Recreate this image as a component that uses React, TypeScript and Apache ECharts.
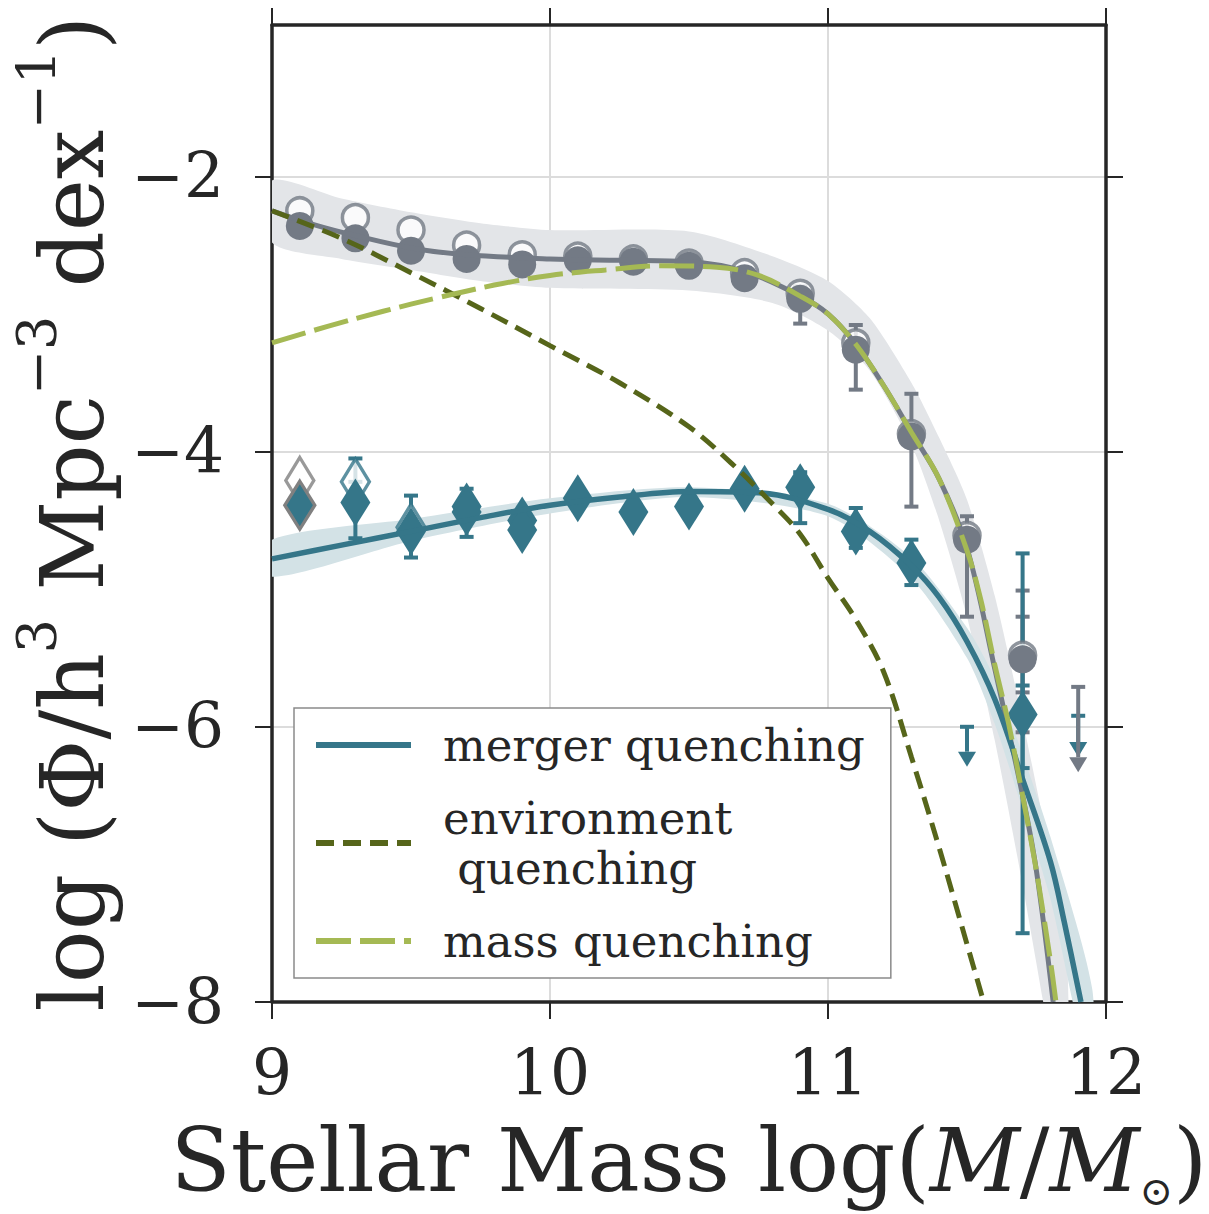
import React, { useEffect, useRef } from 'react';
import * as echarts from 'echarts';

// ---- data ----
const massBins = [9.1, 9.3, 9.5, 9.7, 9.9, 10.1, 10.3, 10.5, 10.7, 10.9, 11.1, 11.3, 11.5, 11.7];
const quenchedFilled = [-2.36, -2.45, -2.54, -2.60, -2.64, -2.61, -2.62, -2.65, -2.74, -2.89, -3.26, -3.89, -4.64, -5.51];
const quenchedOpen = [-2.25, -2.30, -2.39, -2.50, -2.57, -2.58, -2.60, -2.63, -2.70, -2.85, -3.21, -3.87, -4.61, -5.48];
const mergerFilled = [-4.39, -4.37, -4.58, -4.44, -4.57, -4.34, -4.44, -4.40, -4.27, -4.26, -4.58, -4.81, null, -5.91];
const mergerOpenX = [9.3, 9.5];
const mergerOpenY = [-4.22, -4.55];
const mergerExtraX = [9.7, 9.9];
const mergerExtraY = [-4.40, -4.50];
const mergerOpenGrayX = [9.1];
const mergerOpenGrayY = [-4.21];

const grayErrX = [10.9, 11.1, 11.3, 11.5, 11.7, 11.7];
const grayErrLo = [-3.07, -3.55, -4.40, -5.20, -5.75, -6.04];
const grayErrHi = [-2.80, -3.08, -3.58, -4.47, -5.01, -5.20];

const tealErrX = [9.3, 9.3, 9.5, 9.7, 10.9, 11.1, 11.3, 11.7, 11.7];
const tealErrLo = [-4.63, -4.40, -4.77, -4.62, -4.52, -4.70, -4.97, -7.50, -6.30];
const tealErrHi = [-4.22, -4.05, -4.32, -4.27, -4.15, -4.41, -4.64, -4.74, -5.70];

const tealLimitX = [11.5, 11.9];
const tealLimitTop = [-6.0, -5.92];
const tealLimitTip = [-6.29, -6.22];
const grayLimitX = [11.9];
const grayLimitTop = [-5.71];
const grayLimitTip = [-6.33];

const mergerCurveX = [9.0, 9.25, 9.5, 9.75, 10.0, 10.25, 10.5, 10.75, 11.0, 11.15, 11.3, 11.4, 11.5, 11.6, 11.7, 11.8, 11.85, 11.91];
const mergerCurveY = [-4.78, -4.68, -4.58, -4.48, -4.39, -4.33, -4.29, -4.30, -4.42, -4.58, -4.83, -5.06, -5.38, -5.80, -6.38, -6.98, -7.42, -8.0];

const envCurveX = [9.0, 9.25, 9.5, 9.75, 10.0, 10.25, 10.5, 10.65, 10.8, 10.9, 11.0, 11.1, 11.2, 11.3, 11.4, 11.5, 11.56];
const envCurveY = [-2.25, -2.45, -2.70, -2.96, -3.23, -3.50, -3.82, -4.08, -4.38, -4.60, -4.92, -5.22, -5.60, -6.22, -6.88, -7.58, -8.0];

const massCurveX = [9.0, 9.2, 9.4, 9.6, 9.8, 10.0, 10.2, 10.4, 10.6, 10.75, 10.9, 11.0, 11.1, 11.2, 11.3, 11.4, 11.5, 11.55, 11.6, 11.65, 11.7, 11.75, 11.8, 11.82];
const massCurveY = [-3.21, -3.09, -2.98, -2.88, -2.79, -2.72, -2.68, -2.65, -2.66, -2.72, -2.87, -3.00, -3.22, -3.52, -3.86, -4.20, -4.72, -5.08, -5.55, -5.98, -6.50, -7.05, -7.70, -8.0];

const totalCurveX = [9.0, 9.15, 9.3, 9.5, 9.7, 10.0, 10.25, 10.5, 10.7, 10.9, 11.0, 11.1, 11.2, 11.3, 11.4, 11.5, 11.6, 11.7, 11.75, 11.81];
const totalCurveY = [-2.25, -2.35, -2.43, -2.52, -2.57, -2.60, -2.61, -2.62, -2.69, -2.87, -3.00, -3.22, -3.52, -3.86, -4.20, -4.70, -5.58, -6.50, -7.05, -8.0];

const grayBandX = [9.0, 9.25, 9.5, 9.75, 10.0, 10.5, 10.8, 11.0, 11.15, 11.3, 11.4, 11.5, 11.6, 11.7, 11.8, 11.86];
const grayBandHi = [-2.03, -2.16, -2.26, -2.34, -2.39, -2.40, -2.58, -2.76, -3.03, -3.50, -3.90, -4.35, -5.05, -5.95, -6.95, -7.70];
const grayBandLo = [-2.48, -2.60, -2.68, -2.76, -2.81, -2.83, -2.92, -3.12, -3.41, -3.95, -4.50, -5.20, -6.10, -7.15, -8.30, -9.00];

const tealBandX = [9.0, 9.5, 10.0, 10.5, 11.0, 11.3, 11.5, 11.6, 11.7, 11.8, 11.95];
const tealBandHi = [-4.64, -4.49, -4.34, -4.26, -4.38, -4.77, -5.28, -5.65, -6.20, -6.80, -7.90];
const tealBandLo = [-4.91, -4.65, -4.45, -4.33, -4.47, -4.92, -5.50, -5.98, -6.60, -7.25, -8.60];

const yTicks = [-8, -6, -4, -2];

// ---- styles ----
const GRAY = '#737a85';
const TEAL = '#357689';
const OLIVE = '#56651a';
const LGREEN = '#a5b954';
const GRAY_BAND = '#e3e5e8';
const TEAL_BAND = '#d3e2e6';
const INK = '#262626';
const SERIF = 'DejaVu Serif';

const zip = (xs: number[], ys: (number | null)[]) => xs.map((x, i) => [x, ys[i]]);

function bandSeries(xs: number[], lo: number[], hi: number[], color: string) {
  return {
    type: 'custom',
    silent: true,
    clip: true,
    z: 1,
    data: xs.map((x, i) => [x, lo[i], hi[i]]),
    encode: { x: 0, y: [1, 2] },
    renderItem: (params: any, api: any) => {
      if (params.dataIndex !== 0) return null;
      const pts: number[][] = [];
      for (let i = 0; i < xs.length; i++) pts.push(api.coord([xs[i], hi[i]]));
      for (let i = xs.length - 1; i >= 0; i--) pts.push(api.coord([xs[i], lo[i]]));
      return { type: 'polygon', shape: { points: pts, smooth: 0.25 }, style: { fill: color } };
    },
  };
}

function errSeries(xs: number[], lo: number[], hi: number[], color: string) {
  return {
    type: 'custom',
    silent: true,
    clip: true,
    z: 2,
    data: xs.map((x, i) => [x, lo[i], hi[i]]),
    encode: { x: 0, y: [1, 2] },
    renderItem: (params: any, api: any) => {
      const x = api.value(0);
      const a = api.coord([x, api.value(1)]);
      const b = api.coord([x, api.value(2)]);
      const cw = 7;
      const st = { stroke: color, lineWidth: 4 };
      return {
        type: 'group',
        children: [
          { type: 'line', shape: { x1: a[0], y1: a[1], x2: b[0], y2: b[1] }, style: st },
          { type: 'line', shape: { x1: a[0] - cw, y1: a[1], x2: a[0] + cw, y2: a[1] }, style: st },
          { type: 'line', shape: { x1: b[0] - cw, y1: b[1], x2: b[0] + cw, y2: b[1] }, style: st },
        ],
      };
    },
  };
}

function limitSeries(xs: number[], top: number[], tip: number[], color: string) {
  return {
    type: 'custom',
    silent: true,
    clip: true,
    z: 2,
    data: xs.map((x, i) => [x, top[i], tip[i]]),
    encode: { x: 0, y: [1, 2] },
    renderItem: (params: any, api: any) => {
      const x = api.value(0);
      const a = api.coord([x, api.value(1)]);
      const b = api.coord([x, api.value(2)]);
      const cw = 7, ah = 15, aw = 9;
      const st = { stroke: color, lineWidth: 4 };
      return {
        type: 'group',
        children: [
          { type: 'line', shape: { x1: a[0], y1: a[1], x2: b[0], y2: b[1] - ah }, style: st },
          { type: 'line', shape: { x1: a[0] - cw, y1: a[1], x2: a[0] + cw, y2: a[1] }, style: st },
          { type: 'polygon', shape: { points: [[b[0] - aw, b[1] - ah], [b[0] + aw, b[1] - ah], [b[0], b[1]]] }, style: { fill: color } },
        ],
      };
    },
  };
}

const axisLineStyle = { show: true, lineStyle: { color: INK, width: 3.5 } };
const tickStyle = { show: true, inside: false, length: 17, lineStyle: { color: INK, width: 2 } };

const option: any = {
  animation: false,
  backgroundColor: '#ffffff',
  grid: { left: 272, top: 25, right: 103, bottom: 212, containLabel: false, outerBoundsMode: 'none' },
  xAxis: [
    {
      type: 'value', min: 9, max: 12, interval: 1, position: 'bottom',
      axisLine: axisLineStyle, axisTick: tickStyle,
      axisLabel: { fontFamily: SERIF, fontSize: 63, color: INK, margin: 40 },
      splitLine: { show: true, lineStyle: { color: '#dcdcdc', width: 2 } },
      name: '{n|Stellar Mass log(}{i|M}{n|/}{i|M}{b|⊙}{n|)}',
      nameLocation: 'middle', nameGap: 107,
      nameTextStyle: {
        fontFamily: SERIF,
        rich: {
          n: { fontFamily: SERIF, fontSize: 88, color: INK, lineHeight: 102 },
          i: { fontFamily: SERIF, fontSize: 88, fontStyle: 'italic', color: INK, lineHeight: 102 },
          b: { fontFamily: SERIF, fontSize: 40, color: INK, lineHeight: 82, verticalAlign: 'bottom' },
        },
      },
    },
    {
      type: 'value', min: 9, max: 12, interval: 1, position: 'top',
      axisLine: axisLineStyle, axisTick: tickStyle,
      axisLabel: { show: false }, splitLine: { show: false },
    },
  ],
  yAxis: [
    {
      type: 'value', min: -8, max: -0.9, interval: 2, position: 'left',
      axisLine: axisLineStyle,
      axisTick: { ...tickStyle, customValues: yTicks },
      axisLabel: {
        customValues: yTicks,
        fontFamily: SERIF, fontSize: 63, color: INK, margin: 48,
        formatter: (v: number) => (yTicks.indexOf(v) >= 0 ? '\u2212' + Math.abs(v) : ''),
      },
      splitLine: { show: true, lineStyle: { color: '#dcdcdc', width: 2 } },
      name: '{n|log (Φ/h}{s|3}{n| Mpc}{s|\u22123}{n| dex}{s|\u22121}{n|)}',
      nameLocation: 'middle', nameGap: 137,
      nameTextStyle: {
        fontFamily: SERIF,
        rich: {
          n: { fontFamily: SERIF, fontSize: 88, color: INK, lineHeight: 125 },
          s: { fontFamily: SERIF, fontSize: 54, color: INK, lineHeight: 52, verticalAlign: 'top' },
        },
      },
    },
    {
      type: 'value', min: -8, max: -0.9, interval: 2, position: 'right',
      axisLine: axisLineStyle,
      axisTick: { ...tickStyle, customValues: yTicks },
      axisLabel: { show: false }, splitLine: { show: false },
    },
  ],
  legend: {
    orient: 'vertical', left: 294, top: 708,
    data: ['merger quenching', 'environment quenching', 'mass quenching'],
    itemWidth: 95, itemHeight: 20, itemGap: 23,
    padding: [12, 26, 12, 19],
    backgroundColor: '#ffffff', borderColor: '#8a8a8a', borderWidth: 1.5, borderRadius: 0,
    selectedMode: false,
    itemStyle: { opacity: 0 },
    lineStyle: { width: 6 },
    formatter: (n: string) => (n === 'environment quenching' ? 'environment\n quenching' : n),
    textStyle: { fontFamily: SERIF, fontSize: 45, lineHeight: 50, color: INK, padding: [0, 0, 0, 27] },
  },
  series: [
    bandSeries(grayBandX, grayBandLo, grayBandHi, GRAY_BAND),
    bandSeries(tealBandX, tealBandLo, tealBandHi, TEAL_BAND),
    errSeries(grayErrX, grayErrLo, grayErrHi, GRAY),
    errSeries(tealErrX, tealErrLo, tealErrHi, TEAL),
    limitSeries(tealLimitX, tealLimitTop, tealLimitTip, TEAL),
    limitSeries(grayLimitX, grayLimitTop, grayLimitTip, GRAY),
    {
      name: 'quenched (open)', type: 'scatter', z: 3, silent: true,
      data: zip(massBins, quenchedOpen), symbol: 'circle', symbolSize: 26,
      itemStyle: { color: '#ffffff', borderColor: GRAY, borderWidth: 3.5 },
    },
    {
      name: 'quenched', type: 'scatter', z: 3, silent: true,
      data: zip(massBins, quenchedFilled), symbol: 'circle', symbolSize: 28,
      itemStyle: { color: GRAY, opacity: 1 },
    },
    {
      name: 'merger (open gray)', type: 'scatter', z: 3, silent: true,
      data: zip(mergerOpenGrayX, mergerOpenGrayY), symbol: 'diamond', symbolSize: [28, 46],
      itemStyle: { color: '#ffffff', borderColor: '#808080', borderWidth: 3.5 },
    },
    {
      name: 'merger (open)', type: 'scatter', z: 3, silent: true,
      data: zip(mergerOpenX, mergerOpenY), symbol: 'diamond', symbolSize: [28, 46],
      itemStyle: { color: '#ffffff', borderColor: TEAL, borderWidth: 3.5 },
    },
    {
      name: 'merger (second sample)', type: 'scatter', z: 3, silent: true,
      data: zip(mergerExtraX, mergerExtraY), symbol: 'diamond', symbolSize: [30, 48],
      itemStyle: { color: TEAL, opacity: 1 },
    },
    {
      name: 'merger points', type: 'scatter', z: 3, silent: true,
      data: zip(massBins, mergerFilled).filter((d) => d[1] !== null).map((d) =>
        d[0] === 9.1
          ? { value: d, itemStyle: { color: TEAL, borderColor: '#808080', borderWidth: 3.5 } }
          : { value: d }),
      symbol: 'diamond', symbolSize: [30, 48],
      itemStyle: { color: TEAL, opacity: 1 },
    },
    {
      name: 'total', type: 'line', z: 4, silent: true, symbol: 'none', smooth: 0.35,
      data: zip(totalCurveX, totalCurveY),
      lineStyle: { color: GRAY, width: 5 },
    },
    {
      name: 'merger quenching', type: 'line', z: 4, silent: true, symbol: 'none', smooth: 0.35,
      data: zip(mergerCurveX, mergerCurveY),
      color: TEAL,
      lineStyle: { color: TEAL, width: 5.5 },
    },
    {
      name: 'environment quenching', type: 'line', z: 4, silent: true, symbol: 'none', smooth: 0.35,
      data: zip(envCurveX, envCurveY),
      color: OLIVE,
      lineStyle: { color: OLIVE, width: 5, type: [18, 9] },
    },
    {
      name: 'mass quenching', type: 'line', z: 5, silent: true, symbol: 'none', smooth: 0.35,
      data: zip(massCurveX, massCurveY),
      color: LGREEN,
      lineStyle: { color: LGREEN, width: 5, type: [35, 9] },
    },
  ],
};

export default function App() {
  const ref = useRef<HTMLDivElement>(null);
  useEffect(() => {
    const chart = echarts.init(ref.current as HTMLDivElement, null, { renderer: 'svg' });
    chart.setOption(option);
    return () => chart.dispose();
  }, []);
  return (
    <div
      ref={ref}
      style={{ position: 'fixed', left: 0, top: 0, width: 1209, height: 1214, background: '#ffffff' }}
    />
  );
}
